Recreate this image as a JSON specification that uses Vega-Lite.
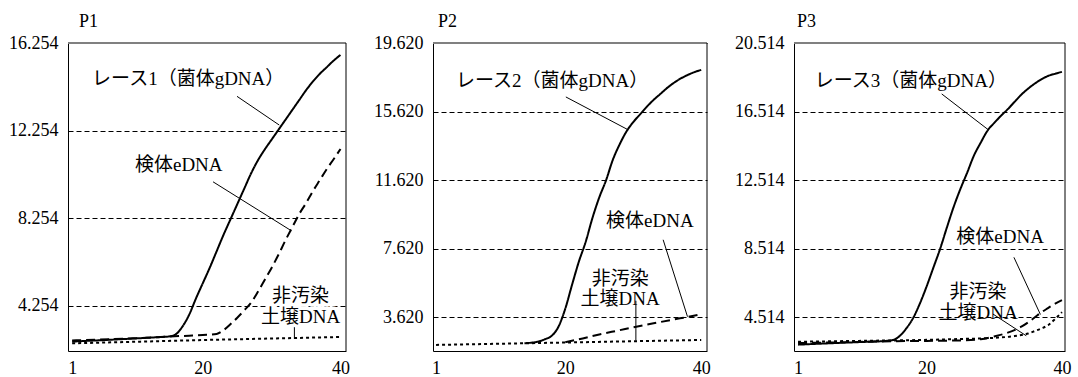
{
  "$schema": "https://vega.github.io/schema/vega-lite/v6.json",
  "background": "white",
  "padding": {"left": 8, "top": 13, "right": 5, "bottom": 2},
  "bounds": "flush",
  "spacing": 87,
  "datasets": {
    "curves": [
      {"p":"P1","s":"solid","c":1,"v":2.63},{"p":"P1","s":"solid","c":5,"v":2.69},{"p":"P1","s":"solid","c":10,"v":2.77},{"p":"P1","s":"solid","c":14,"v":2.84},{"p":"P1","s":"solid","c":15,"v":2.86},{"p":"P1","s":"solid","c":16,"v":2.95},{"p":"P1","s":"solid","c":17,"v":3.3},{"p":"P1","s":"solid","c":18,"v":3.85},{"p":"P1","s":"solid","c":19,"v":4.6},{"p":"P1","s":"solid","c":20,"v":5.3},{"p":"P1","s":"solid","c":21,"v":6.0},{"p":"P1","s":"solid","c":22,"v":6.75},{"p":"P1","s":"solid","c":23,"v":7.5},{"p":"P1","s":"solid","c":24,"v":8.2},{"p":"P1","s":"solid","c":25,"v":8.9},{"p":"P1","s":"solid","c":26,"v":9.6},{"p":"P1","s":"solid","c":27,"v":10.3},{"p":"P1","s":"solid","c":28,"v":10.9},{"p":"P1","s":"solid","c":29,"v":11.4},{"p":"P1","s":"solid","c":30,"v":11.85},{"p":"P1","s":"solid","c":31,"v":12.3},{"p":"P1","s":"solid","c":32,"v":12.75},{"p":"P1","s":"solid","c":33,"v":13.2},{"p":"P1","s":"solid","c":34,"v":13.65},{"p":"P1","s":"solid","c":35,"v":14.1},{"p":"P1","s":"solid","c":36,"v":14.5},{"p":"P1","s":"solid","c":37,"v":14.85},{"p":"P1","s":"solid","c":38,"v":15.15},{"p":"P1","s":"solid","c":39,"v":15.45},{"p":"P1","s":"solid","c":40,"v":15.71},
      {"p":"P1","s":"dashed","c":1,"v":2.68},{"p":"P1","s":"dashed","c":5,"v":2.72},{"p":"P1","s":"dashed","c":10,"v":2.78},{"p":"P1","s":"dashed","c":15,"v":2.86},{"p":"P1","s":"dashed","c":18,"v":2.9},{"p":"P1","s":"dashed","c":20,"v":2.93},{"p":"P1","s":"dashed","c":22,"v":2.98},{"p":"P1","s":"dashed","c":23,"v":3.15},{"p":"P1","s":"dashed","c":24,"v":3.42},{"p":"P1","s":"dashed","c":25,"v":3.72},{"p":"P1","s":"dashed","c":26,"v":4.05},{"p":"P1","s":"dashed","c":27,"v":4.4},{"p":"P1","s":"dashed","c":28,"v":4.9},{"p":"P1","s":"dashed","c":29,"v":5.45},{"p":"P1","s":"dashed","c":30,"v":6.0},{"p":"P1","s":"dashed","c":31,"v":6.6},{"p":"P1","s":"dashed","c":32,"v":7.25},{"p":"P1","s":"dashed","c":33,"v":7.85},{"p":"P1","s":"dashed","c":34,"v":8.45},{"p":"P1","s":"dashed","c":35,"v":8.95},{"p":"P1","s":"dashed","c":36,"v":9.5},{"p":"P1","s":"dashed","c":37,"v":10.0},{"p":"P1","s":"dashed","c":38,"v":10.5},{"p":"P1","s":"dashed","c":39,"v":10.95},{"p":"P1","s":"dashed","c":40,"v":11.42},
      {"p":"P1","s":"dotted","c":1,"v":2.55},{"p":"P1","s":"dotted","c":10,"v":2.62},{"p":"P1","s":"dotted","c":20,"v":2.7},{"p":"P1","s":"dotted","c":30,"v":2.77},{"p":"P1","s":"dotted","c":40,"v":2.84},
      {"p":"P2","s":"solid","c":14,"v":2.09},{"p":"P2","s":"solid","c":15,"v":2.12},{"p":"P2","s":"solid","c":16,"v":2.18},{"p":"P2","s":"solid","c":17,"v":2.32},{"p":"P2","s":"solid","c":18,"v":2.52},{"p":"P2","s":"solid","c":19,"v":3.05},{"p":"P2","s":"solid","c":20,"v":4.1},{"p":"P2","s":"solid","c":21,"v":5.5},{"p":"P2","s":"solid","c":22,"v":6.85},{"p":"P2","s":"solid","c":23,"v":8.0},{"p":"P2","s":"solid","c":24,"v":9.4},{"p":"P2","s":"solid","c":25,"v":10.6},{"p":"P2","s":"solid","c":26,"v":11.6},{"p":"P2","s":"solid","c":27,"v":12.8},{"p":"P2","s":"solid","c":28,"v":13.7},{"p":"P2","s":"solid","c":29,"v":14.45},{"p":"P2","s":"solid","c":30,"v":15.0},{"p":"P2","s":"solid","c":31,"v":15.45},{"p":"P2","s":"solid","c":32,"v":15.9},{"p":"P2","s":"solid","c":33,"v":16.3},{"p":"P2","s":"solid","c":34,"v":16.65},{"p":"P2","s":"solid","c":35,"v":17.0},{"p":"P2","s":"solid","c":36,"v":17.3},{"p":"P2","s":"solid","c":37,"v":17.55},{"p":"P2","s":"solid","c":38,"v":17.75},{"p":"P2","s":"solid","c":39,"v":17.92},{"p":"P2","s":"solid","c":40,"v":18.05},
      {"p":"P2","s":"dashed","c":20,"v":2.15},{"p":"P2","s":"dashed","c":22,"v":2.32},{"p":"P2","s":"dashed","c":25,"v":2.6},{"p":"P2","s":"dashed","c":28,"v":2.85},{"p":"P2","s":"dashed","c":30,"v":3.02},{"p":"P2","s":"dashed","c":33,"v":3.25},{"p":"P2","s":"dashed","c":36,"v":3.48},{"p":"P2","s":"dashed","c":38,"v":3.62},{"p":"P2","s":"dashed","c":40,"v":3.78},
      {"p":"P2","s":"dotted","c":1,"v":1.99},{"p":"P2","s":"dotted","c":20,"v":2.13},{"p":"P2","s":"dotted","c":40,"v":2.28},
      {"p":"P3","s":"solid","c":1,"v":2.9},{"p":"P3","s":"solid","c":5,"v":2.97},{"p":"P3","s":"solid","c":10,"v":3.05},{"p":"P3","s":"solid","c":14,"v":3.12},{"p":"P3","s":"solid","c":15,"v":3.17},{"p":"P3","s":"solid","c":16,"v":3.4},{"p":"P3","s":"solid","c":17,"v":3.85},{"p":"P3","s":"solid","c":18,"v":4.45},{"p":"P3","s":"solid","c":19,"v":5.3},{"p":"P3","s":"solid","c":20,"v":6.3},{"p":"P3","s":"solid","c":21,"v":7.4},{"p":"P3","s":"solid","c":22,"v":8.5},{"p":"P3","s":"solid","c":23,"v":9.75},{"p":"P3","s":"solid","c":24,"v":10.95},{"p":"P3","s":"solid","c":25,"v":12.0},{"p":"P3","s":"solid","c":26,"v":12.95},{"p":"P3","s":"solid","c":27,"v":13.95},{"p":"P3","s":"solid","c":28,"v":14.7},{"p":"P3","s":"solid","c":29,"v":15.4},{"p":"P3","s":"solid","c":30,"v":15.85},{"p":"P3","s":"solid","c":31,"v":16.27},{"p":"P3","s":"solid","c":32,"v":16.65},{"p":"P3","s":"solid","c":33,"v":17.08},{"p":"P3","s":"solid","c":34,"v":17.5},{"p":"P3","s":"solid","c":35,"v":17.85},{"p":"P3","s":"solid","c":36,"v":18.15},{"p":"P3","s":"solid","c":37,"v":18.4},{"p":"P3","s":"solid","c":38,"v":18.6},{"p":"P3","s":"solid","c":39,"v":18.72},{"p":"P3","s":"solid","c":40,"v":18.83},
      {"p":"P3","s":"dashed","c":1,"v":2.99},{"p":"P3","s":"dashed","c":5,"v":3.02},{"p":"P3","s":"dashed","c":10,"v":3.06},{"p":"P3","s":"dashed","c":15,"v":3.1},{"p":"P3","s":"dashed","c":20,"v":3.12},{"p":"P3","s":"dashed","c":25,"v":3.15},{"p":"P3","s":"dashed","c":28,"v":3.22},{"p":"P3","s":"dashed","c":30,"v":3.38},{"p":"P3","s":"dashed","c":32,"v":3.6},{"p":"P3","s":"dashed","c":34,"v":3.95},{"p":"P3","s":"dashed","c":35,"v":4.2},{"p":"P3","s":"dashed","c":36,"v":4.5},{"p":"P3","s":"dashed","c":37,"v":4.8},{"p":"P3","s":"dashed","c":38,"v":5.05},{"p":"P3","s":"dashed","c":39,"v":5.3},{"p":"P3","s":"dashed","c":40,"v":5.5},
      {"p":"P3","s":"dotted","c":1,"v":3.07},{"p":"P3","s":"dotted","c":10,"v":3.12},{"p":"P3","s":"dotted","c":20,"v":3.18},{"p":"P3","s":"dotted","c":25,"v":3.23},{"p":"P3","s":"dotted","c":30,"v":3.3},{"p":"P3","s":"dotted","c":33,"v":3.4},{"p":"P3","s":"dotted","c":35,"v":3.55},{"p":"P3","s":"dotted","c":36,"v":3.7},{"p":"P3","s":"dotted","c":37,"v":3.85},{"p":"P3","s":"dotted","c":38,"v":4.05},{"p":"P3","s":"dotted","c":39,"v":4.4},{"p":"P3","s":"dotted","c":40,"v":4.8}
    ],
    "leaders": [
      {"p":"P1","k":"gDNA","c":24.96,"v":13.82,"c2":31.1,"v2":12.51},
      {"p":"P1","k":"eDNA","c":21.48,"v":9.92,"c2":32.84,"v2":7.69},
      {"p":"P1","k":"soil","c":33.3,"v":3.57,"c2":33.3,"v2":2.75},
      {"p":"P2","k":"gDNA","c":20.09,"v":16.47,"c2":29.26,"v2":14.55},
      {"p":"P2","k":"eDNA","c":34.4,"v":8.13,"c2":37.98,"v2":3.64},
      {"p":"P2","k":"soil","c":30.39,"v":4.57,"c2":30.39,"v2":2.24},
      {"p":"P3","k":"gDNA","c":22.23,"v":17.54,"c2":29.11,"v2":15.45},
      {"p":"P3","k":"eDNA","c":32.9,"v":8.0,"c2":36.82,"v2":4.66},
      {"p":"P3","k":"soil","c":29.8,"v":4.69,"c2":34.72,"v2":3.42}
    ],
    "labels": [
      {"p":"P1","k":"gDNA","t":"レース1（菌体gDNA）","c":3.9,"v":14.61},
      {"p":"P1","k":"eDNA","t":"検体eDNA","c":10.13,"v":10.69},
      {"p":"P1","k":"soil","t":"非汚染\n土壌DNA","c":34.2,"v":4.69},
      {"p":"P2","k":"gDNA","t":"レース2（菌体gDNA）","c":3.94,"v":17.4},
      {"p":"P2","k":"eDNA","t":"検体eDNA","c":26.0,"v":9.23},
      {"p":"P2","k":"soil","t":"非汚染\n土壌DNA","c":28.08,"v":5.84},
      {"p":"P3","k":"gDNA","t":"レース3（菌体gDNA）","c":3.47,"v":18.29},
      {"p":"P3","k":"eDNA","t":"検体eDNA","c":24.38,"v":9.17},
      {"p":"P3","k":"soil","t":"非汚染\n土壌DNA","c":27.6,"v":6.0}
    ],
    "frame": [
      {"p":"P1","side":"top","c":0.4,"v":16.254,"c2":40.8,"v2":16.254},
      {"p":"P1","side":"right","c":40.8,"v":2.2,"c2":40.8,"v2":16.254},
      {"p":"P2","side":"top","c":0.55,"v":19.62,"c2":40.85,"v2":19.62},
      {"p":"P2","side":"right","c":40.85,"v":1.635,"c2":40.85,"v2":19.62},
      {"p":"P3","side":"top","c":0.4,"v":20.514,"c2":40.45,"v2":20.514},
      {"p":"P3","side":"right","c":40.45,"v":2.53,"c2":40.45,"v2":20.514}
    ]
  },
  "hconcat": [
    {
      "width": 278, "height": 308,
      "title": {"text": "P1", "dx": 11},
      "encoding": {
        "x": {"field": "c", "type": "quantitative", "scale": {"domain": [0.4, 40.8], "nice": false, "zero": false}, "axis": {"values": [1, 20, 40], "format": "d", "grid": false, "title": null}},
        "y": {"field": "v", "type": "quantitative", "scale": {"domain": [2.2, 16.254], "nice": false, "zero": false}, "axis": {"values": [4.254, 8.254, 12.254, 16.254], "format": ".3f", "grid": true, "title": null}}
      },
      "layer": [
        {
          "data": {"name": "curves"},
          "transform": [{"filter": "datum.p == 'P1'"}],
          "mark": {"type": "line", "interpolate": "monotone", "strokeWidth": 2, "color": "#000"},
          "encoding": {
            "strokeDash": {"field": "s", "type": "nominal", "scale": {"domain": ["solid", "dashed", "dotted"], "range": [[1, 0], [9, 5], [3, 3]]}, "legend": null}
          }
        },
        {
          "data": {"name": "leaders"},
          "transform": [{"filter": "datum.p == 'P1'"}],
          "mark": {"type": "rule", "color": "#000", "strokeWidth": 1},
          "encoding": {"x2": {"field": "c2"}, "y2": {"field": "v2"}}
        },
        {
          "data": {"name": "labels"},
          "transform": [{"filter": "datum.p == 'P1' && datum.k != 'soil'"}],
          "mark": {"type": "text", "align": "left", "baseline": "middle", "fontSize": 19, "color": "#000"},
          "encoding": {"text": {"field": "t"}}
        },
        {
          "data": {"name": "labels"},
          "transform": [{"filter": "datum.p == 'P1' && datum.k == 'soil'"}],
          "mark": {"type": "text", "align": "center", "baseline": "middle", "fontSize": 19, "lineBreak": "\n", "lineHeight": 21, "fill": "#fff", "stroke": "#fff", "strokeWidth": 7, "strokeJoin": "round"},
          "encoding": {"text": {"field": "t"}}
        },
        {
          "data": {"name": "labels"},
          "transform": [{"filter": "datum.p == 'P1' && datum.k == 'soil'"}],
          "mark": {"type": "text", "align": "center", "baseline": "middle", "fontSize": 19, "lineBreak": "\n", "lineHeight": 21, "color": "#000"},
          "encoding": {"text": {"field": "t"}}
        },
        {
          "data": {"name": "frame"},
          "transform": [{"filter": "datum.p == 'P1' && datum.side == 'top'"}],
          "mark": {"type": "rule", "color": "#808080", "strokeWidth": 2},
          "encoding": {"x2": {"field": "c2"}, "y2": {"field": "v2"}}
        },
        {
          "data": {"name": "frame"},
          "transform": [{"filter": "datum.p == 'P1' && datum.side == 'right'"}],
          "mark": {"type": "rule", "color": "#000", "strokeWidth": 1},
          "encoding": {"x2": {"field": "c2"}, "y2": {"field": "v2"}}
        }
      ]
    },
    {
      "width": 274, "height": 308,
      "title": {"text": "P2", "dx": 5},
      "encoding": {
        "x": {"field": "c", "type": "quantitative", "scale": {"domain": [0.55, 40.85], "nice": false, "zero": false}, "axis": {"values": [1, 20, 40], "format": "d", "grid": false, "title": null}},
        "y": {"field": "v", "type": "quantitative", "scale": {"domain": [1.635, 19.62], "nice": false, "zero": false}, "axis": {"values": [3.62, 7.62, 11.62, 15.62, 19.62], "format": ".3f", "grid": true, "title": null}}
      },
      "layer": [
        {
          "data": {"name": "curves"},
          "transform": [{"filter": "datum.p == 'P2'"}],
          "mark": {"type": "line", "interpolate": "monotone", "strokeWidth": 2, "color": "#000"},
          "encoding": {
            "strokeDash": {"field": "s", "type": "nominal", "scale": {"domain": ["solid", "dashed", "dotted"], "range": [[1, 0], [9, 5], [3, 3]]}, "legend": null}
          }
        },
        {
          "data": {"name": "leaders"},
          "transform": [{"filter": "datum.p == 'P2'"}],
          "mark": {"type": "rule", "color": "#000", "strokeWidth": 1},
          "encoding": {"x2": {"field": "c2"}, "y2": {"field": "v2"}}
        },
        {
          "data": {"name": "labels"},
          "transform": [{"filter": "datum.p == 'P2' && datum.k != 'soil'"}],
          "mark": {"type": "text", "align": "left", "baseline": "middle", "fontSize": 19, "color": "#000"},
          "encoding": {"text": {"field": "t"}}
        },
        {
          "data": {"name": "labels"},
          "transform": [{"filter": "datum.p == 'P2' && datum.k == 'soil'"}],
          "mark": {"type": "text", "align": "center", "baseline": "middle", "fontSize": 19, "lineBreak": "\n", "lineHeight": 20, "color": "#000"},
          "encoding": {"text": {"field": "t"}}
        },
        {
          "data": {"name": "frame"},
          "transform": [{"filter": "datum.p == 'P2' && datum.side == 'top'"}],
          "mark": {"type": "rule", "color": "#808080", "strokeWidth": 2},
          "encoding": {"x2": {"field": "c2"}, "y2": {"field": "v2"}}
        },
        {
          "data": {"name": "frame"},
          "transform": [{"filter": "datum.p == 'P2' && datum.side == 'right'"}],
          "mark": {"type": "rule", "color": "#000", "strokeWidth": 1},
          "encoding": {"x2": {"field": "c2"}, "y2": {"field": "v2"}}
        }
      ]
    },
    {
      "width": 271, "height": 308,
      "title": {"text": "P3", "dx": 3},
      "encoding": {
        "x": {"field": "c", "type": "quantitative", "scale": {"domain": [0.4, 40.45], "nice": false, "zero": false}, "axis": {"values": [1, 20, 40], "format": "d", "grid": false, "title": null}},
        "y": {"field": "v", "type": "quantitative", "scale": {"domain": [2.53, 20.514], "nice": false, "zero": false}, "axis": {"values": [4.514, 8.514, 12.514, 16.514, 20.514], "format": ".3f", "grid": true, "title": null}}
      },
      "layer": [
        {
          "data": {"name": "curves"},
          "transform": [{"filter": "datum.p == 'P3'"}],
          "mark": {"type": "line", "interpolate": "monotone", "strokeWidth": 2, "color": "#000"},
          "encoding": {
            "strokeDash": {"field": "s", "type": "nominal", "scale": {"domain": ["solid", "dashed", "dotted"], "range": [[1, 0], [9, 5], [3, 3]]}, "legend": null}
          }
        },
        {
          "data": {"name": "leaders"},
          "transform": [{"filter": "datum.p == 'P3'"}],
          "mark": {"type": "rule", "color": "#000", "strokeWidth": 1},
          "encoding": {"x2": {"field": "c2"}, "y2": {"field": "v2"}}
        },
        {
          "data": {"name": "labels"},
          "transform": [{"filter": "datum.p == 'P3' && datum.k != 'soil'"}],
          "mark": {"type": "text", "align": "left", "baseline": "middle", "fontSize": 19, "color": "#000"},
          "encoding": {"text": {"field": "t"}}
        },
        {
          "data": {"name": "labels"},
          "transform": [{"filter": "datum.p == 'P3' && datum.k == 'soil'"}],
          "mark": {"type": "text", "align": "center", "baseline": "middle", "fontSize": 19, "lineBreak": "\n", "lineHeight": 21, "color": "#000"},
          "encoding": {"text": {"field": "t"}}
        },
        {
          "data": {"name": "frame"},
          "transform": [{"filter": "datum.p == 'P3' && datum.side == 'top'"}],
          "mark": {"type": "rule", "color": "#808080", "strokeWidth": 2},
          "encoding": {"x2": {"field": "c2"}, "y2": {"field": "v2"}}
        },
        {
          "data": {"name": "frame"},
          "transform": [{"filter": "datum.p == 'P3' && datum.side == 'right'"}],
          "mark": {"type": "rule", "color": "#000", "strokeWidth": 1},
          "encoding": {"x2": {"field": "c2"}, "y2": {"field": "v2"}}
        }
      ]
    }
  ],
  "config": {
    "font": "Liberation Serif, Noto Sans CJK JP",
    "view": {"stroke": null},
    "axis": {
      "labelFont": "Liberation Serif",
      "labelFontSize": 18,
      "labelColor": "#000000",
      "domain": true,
      "domainColor": "#000000",
      "domainWidth": 1,
      "ticks": false,
      "tickSize": 0,
      "labelPadding": 10,
      "gridColor": "#000000",
      "gridDash": [5, 3],
      "gridWidth": 1,
      "gridOpacity": 1
    },
    "axisX": {"labelPadding": 8},
    "title": {
      "font": "Liberation Serif",
      "fontSize": 18,
      "fontWeight": "normal",
      "color": "#000000",
      "anchor": "start",
      "frame": "group",
      "baseline": "alphabetic",
      "offset": 3
    }
  }
}
